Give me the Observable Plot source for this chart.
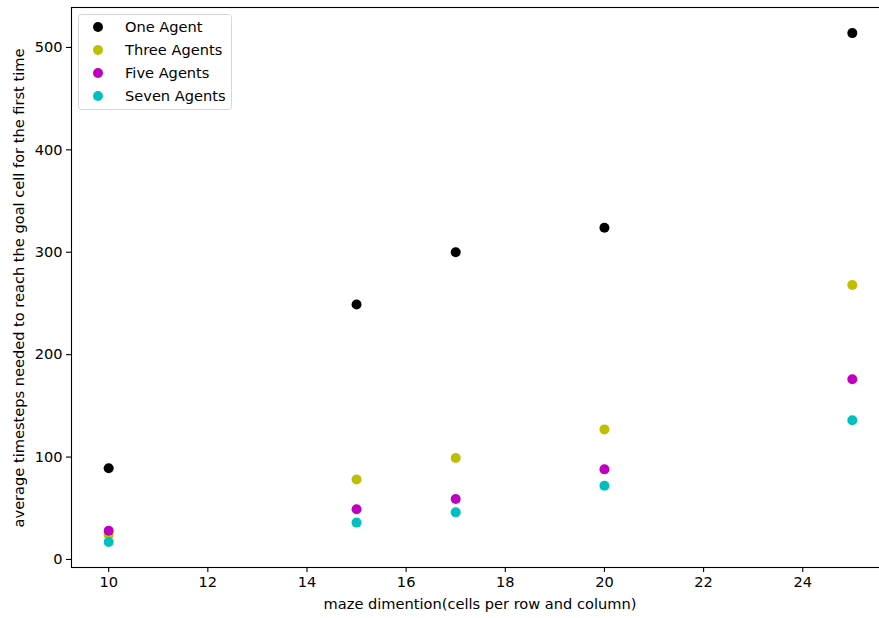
<!DOCTYPE html>
<html><head><meta charset="utf-8">
<script src="https://cdn.jsdelivr.net/npm/d3@7"></script>
<script src="https://cdn.jsdelivr.net/npm/@observablehq/plot@0.6"></script>
<style>body{margin:0;background:#fff} svg{display:block;overflow:hidden}</style>
</head><body><div id="chart"></div>
<script>
const mazeSizes = [10, 15, 17, 20, 25];
const oneAgent = [89, 249, 300, 324, 514];
const threeAgents = [24, 78, 99, 127, 268];
const fiveAgents = [28, 49, 59, 88, 176];
const sevenAgents = [17, 36, 46, 72, 136];
const seriesNames = ["One Agent", "Three Agents", "Five Agents", "Seven Agents"];
const seriesColors = ["#000000", "#bfbf00", "#bf00bf", "#00bfbf"];
const xTicks = [10, 12, 14, 16, 18, 20, 22, 24];
const yTicks = [0, 100, 200, 300, 400, 500];

const seriesValues = [oneAgent, threeAgents, fiveAgents, sevenAgents];
const data = [];
seriesValues.forEach((vals, si) => vals.forEach((v, i) => data.push({size: mazeSizes[i], value: v, series: seriesNames[si]})));

const font = "DejaVu Sans, sans-serif";
const fs = 14.6;
const W = 879, H = 618, mL = 71, mT = 7, mB = 51, mR = -10;

const plot = Plot.plot({
  width: W, height: H,
  marginLeft: mL, marginRight: mR, marginTop: mT, marginBottom: mB,
  style: {fontFamily: font, fontSize: fs + "px", color: "#000", background: "#fff"},
  x: {domain: [9.25, 25.75], ticks: xTicks, label: null},
  y: {domain: [-7.85, 539], ticks: yTicks, label: null},
  color: {domain: seriesNames, range: seriesColors},
  marks: [
    Plot.frame({stroke: "#000", strokeWidth: 1.1}),
    Plot.axisX({ticks: xTicks, tickSize: 5, tickPadding: 4, fontSize: fs, label: null, stroke: "#000", strokeWidth: 1.1}),
    Plot.axisY({ticks: yTicks, tickSize: 5, tickPadding: 4, fontSize: fs, label: null, stroke: "#000", strokeWidth: 1.1}),
    Plot.dot(data, {x: "size", y: "value", fill: "series", r: 5, stroke: null})
  ]
});
document.getElementById("chart").appendChild(plot);

const svg = d3.select(plot);
svg.append("text")
  .attr("x", (mL + 889) / 2).attr("y", 609)
  .attr("text-anchor", "middle")
  .style("font-family", font).style("font-size", fs + "px").attr("fill", "#000")
  .text("maze dimention(cells per row and column)");
svg.append("text")
  .attr("transform", `translate(24,288) rotate(-90)`)
  .attr("text-anchor", "middle")
  .style("font-family", font).style("font-size", fs + "px").attr("fill", "#000")
  .text("average timesteps needed to reach the goal cell for the first time");

const lg = svg.append("g");
lg.append("rect").attr("x", 78.5).attr("y", 14.5).attr("width", 153).attr("height", 95)
  .attr("rx", 3).attr("fill", "#fff").attr("fill-opacity", 0.8).attr("stroke", "#d6d6d6");
seriesNames.forEach((n, i) => {
  const cy = 27 + i * 23;
  lg.append("circle").attr("cx", 98).attr("cy", cy).attr("r", 5).attr("fill", seriesColors[i]);
  lg.append("text").attr("x", 125).attr("y", cy + 5).attr("text-anchor", "start")
    .style("font-family", font).style("font-size", fs + "px").attr("fill", "#000").text(n);
});
</script></body></html>
